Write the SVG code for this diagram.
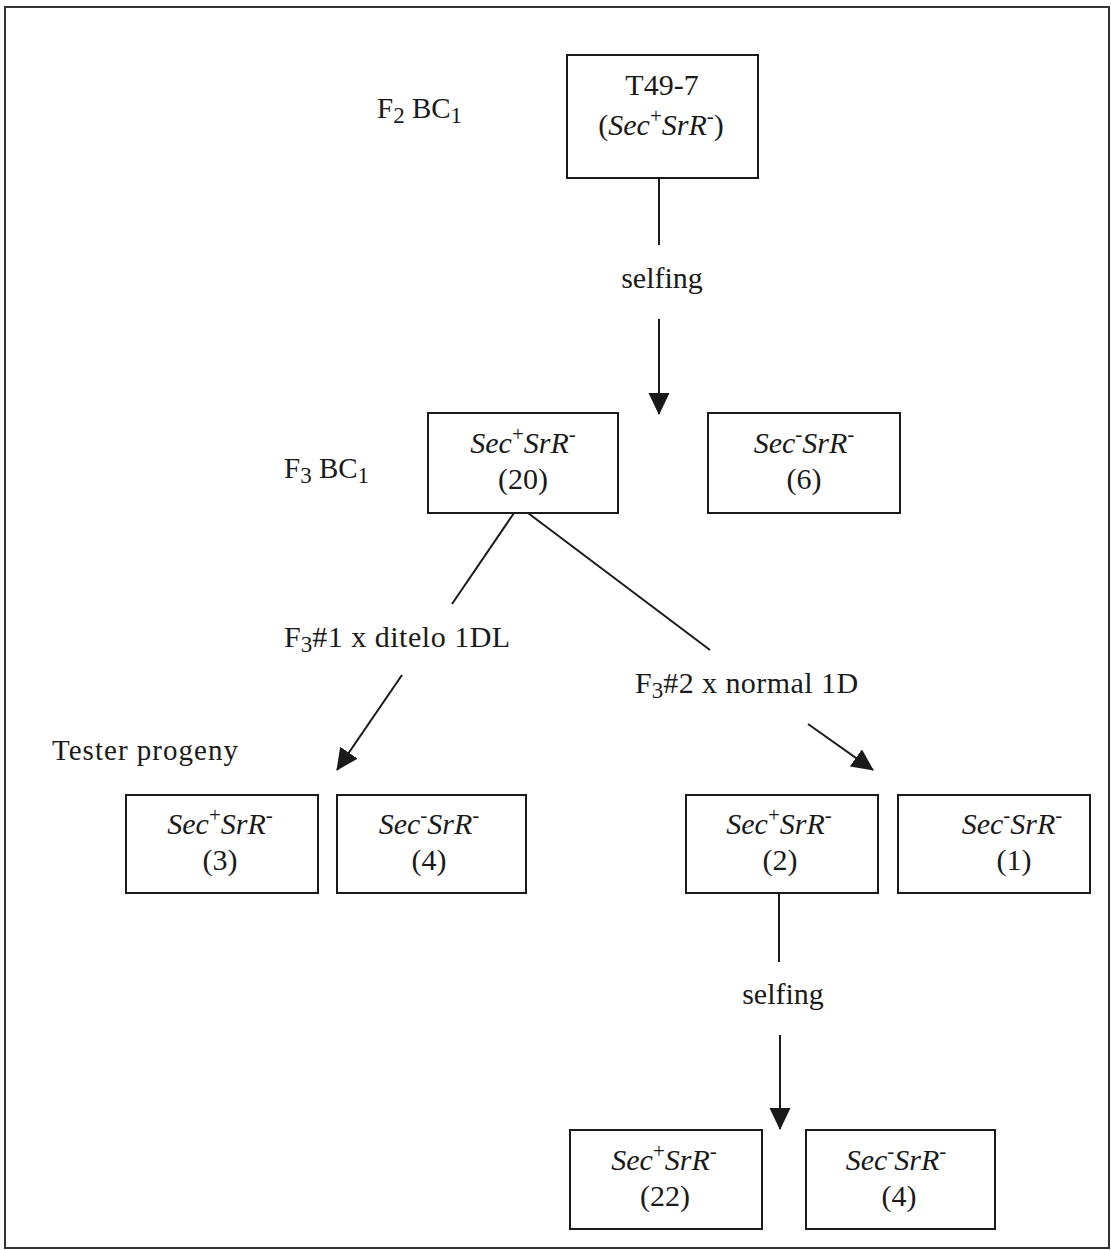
<svg xmlns="http://www.w3.org/2000/svg" width="1111" height="1250" viewBox="0 0 1111 1250">
<style>
  text { font-family: "Liberation Serif", "Times New Roman", serif; font-size: 30px; fill: #1a1a1a; }
  .it { font-style: italic; }
  .sup { font-size: 21px; font-style: normal; }
  .sub { font-size: 23px; }
  .lbl { font-size: 29px; }
  .box { fill: #ffffff; stroke: #1a1a1a; stroke-width: 2; }
  .conn { stroke: #1a1a1a; stroke-width: 2; fill: none; }
  .frame { fill: #ffffff; stroke: #333333; stroke-width: 2; }
</style>
<defs>
  <marker id="arrow" markerUnits="userSpaceOnUse" markerWidth="23" markerHeight="22" refX="21" refY="10.5" orient="auto">
    <path d="M0,0 L22,10.5 L0,21 z" fill="#1a1a1a"/>
  </marker>
</defs>

<rect class="frame" x="5" y="7" width="1104" height="1241"/>

<g id="labels">
  <text id="lbl-f2" class="lbl" x="377" y="118">F<tspan class="sub" dy="5">2</tspan><tspan dy="-5"> BC</tspan><tspan class="sub" dy="5">1</tspan></text>
  <text id="lbl-f3" class="lbl" x="284" y="478">F<tspan class="sub" dy="5">3</tspan><tspan dy="-5"> BC</tspan><tspan class="sub" dy="5">1</tspan></text>
  <text id="lbl-tester" class="lbl" x="52" y="760" textLength="186" lengthAdjust="spacing">Tester progeny</text>
</g>

<g id="connectors">
  <line class="conn" x1="659" y1="178" x2="659" y2="245"/>
  <line class="conn" x1="659" y1="319" x2="659" y2="414" marker-end="url(#arrow)"/>
  <line class="conn" x1="514" y1="513" x2="452" y2="604"/>
  <line class="conn" x1="528" y1="513" x2="710" y2="650"/>
  <line class="conn" x1="402" y1="675" x2="337" y2="770" marker-end="url(#arrow)"/>
  <line class="conn" x1="808" y1="724" x2="873" y2="770" marker-end="url(#arrow)"/>
  <line class="conn" x1="779" y1="893" x2="779" y2="962"/>
  <line class="conn" x1="780" y1="1035" x2="780" y2="1129" marker-end="url(#arrow)"/>
  <text x="662" y="288" text-anchor="middle">selfing</text>
  <text x="284" y="647">F<tspan class="sub" dy="5">3</tspan><tspan dy="-5" textLength="198" lengthAdjust="spacing">#1 x ditelo 1DL</tspan></text>
  <text x="635" y="693">F<tspan class="sub" dy="5">3</tspan><tspan dy="-5" textLength="195" lengthAdjust="spacing">#2 x normal 1D</tspan></text>
  <text x="783" y="1004" text-anchor="middle">selfing</text>
</g>

<g id="node-t497">
  <rect class="box" x="567" y="55" width="191" height="123"/>
  <text x="662" y="95" text-anchor="middle">T49-7</text>
  <text x="661" y="135" text-anchor="middle">(<tspan class="it">Sec</tspan><tspan class="sup" dy="-12">+</tspan><tspan class="it" dy="12">SrR</tspan><tspan class="sup" dy="-12">-</tspan><tspan dy="12">)</tspan></text>
</g>

<g id="node-f3-pos">
  <rect class="box" x="428" y="413" width="190" height="100"/>
  <text x="523" y="453" text-anchor="middle"><tspan class="it">Sec</tspan><tspan class="sup" dy="-12">+</tspan><tspan class="it" dy="12">SrR</tspan><tspan class="sup" dy="-12">-</tspan></text>
  <text x="523" y="489" text-anchor="middle">(20)</text>
</g>

<g id="node-f3-neg">
  <rect class="box" x="708" y="413" width="192" height="100"/>
  <text x="804" y="453" text-anchor="middle"><tspan class="it">Sec</tspan><tspan class="sup" dy="-12">-</tspan><tspan class="it" dy="12">SrR</tspan><tspan class="sup" dy="-12">-</tspan></text>
  <text x="804" y="489" text-anchor="middle">(6)</text>
</g>

<g id="node-t1-pos">
  <rect class="box" x="126" y="795" width="192" height="98"/>
  <text x="220" y="834" text-anchor="middle"><tspan class="it">Sec</tspan><tspan class="sup" dy="-12">+</tspan><tspan class="it" dy="12">SrR</tspan><tspan class="sup" dy="-12">-</tspan></text>
  <text x="220" y="870" text-anchor="middle">(3)</text>
</g>

<g id="node-t1-neg">
  <rect class="box" x="337" y="795" width="189" height="98"/>
  <text x="429" y="834" text-anchor="middle"><tspan class="it">Sec</tspan><tspan class="sup" dy="-12">-</tspan><tspan class="it" dy="12">SrR</tspan><tspan class="sup" dy="-12">-</tspan></text>
  <text x="429" y="870" text-anchor="middle">(4)</text>
</g>

<g id="node-t2-pos">
  <rect class="box" x="686" y="795" width="192" height="98"/>
  <text x="779" y="834" text-anchor="middle"><tspan class="it">Sec</tspan><tspan class="sup" dy="-12">+</tspan><tspan class="it" dy="12">SrR</tspan><tspan class="sup" dy="-12">-</tspan></text>
  <text x="780" y="870" text-anchor="middle">(2)</text>
</g>

<g id="node-t2-neg">
  <rect class="box" x="898" y="795" width="192" height="98"/>
  <text x="1012" y="834" text-anchor="middle"><tspan class="it">Sec</tspan><tspan class="sup" dy="-12">-</tspan><tspan class="it" dy="12">SrR</tspan><tspan class="sup" dy="-12">-</tspan></text>
  <text x="1014" y="870" text-anchor="middle">(1)</text>
</g>

<g id="node-s-pos">
  <rect class="box" x="570" y="1130" width="192" height="99"/>
  <text x="664" y="1170" text-anchor="middle"><tspan class="it">Sec</tspan><tspan class="sup" dy="-12">+</tspan><tspan class="it" dy="12">SrR</tspan><tspan class="sup" dy="-12">-</tspan></text>
  <text x="665" y="1206" text-anchor="middle">(22)</text>
</g>

<g id="node-s-neg">
  <rect class="box" x="806" y="1130" width="189" height="99"/>
  <text x="896" y="1170" text-anchor="middle"><tspan class="it">Sec</tspan><tspan class="sup" dy="-12">-</tspan><tspan class="it" dy="12">SrR</tspan><tspan class="sup" dy="-12">-</tspan></text>
  <text x="899" y="1206" text-anchor="middle">(4)</text>
</g>
</svg>
